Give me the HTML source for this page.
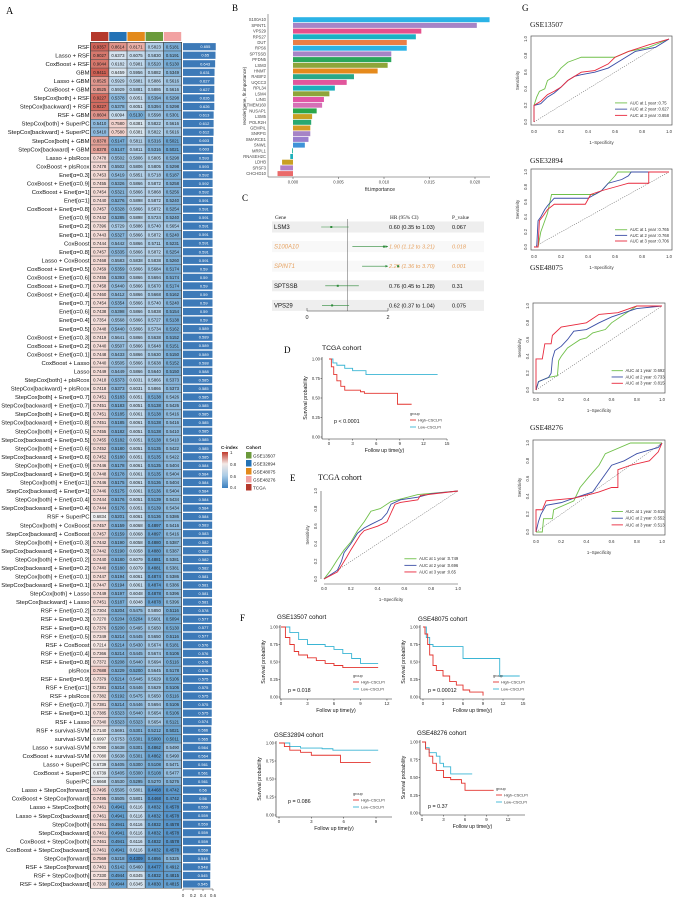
<!DOCTYPE html>
<html><head><meta charset="utf-8"><style>
html,body{margin:0;padding:0;background:#fff;}
svg{display:block;font-family:"Liberation Sans",sans-serif;}
.serif{font-family:"Liberation Serif",serif;}
</style></head><body>
<svg id="fig" width="674" height="898" viewBox="0 0 674 898" xmlns="http://www.w3.org/2000/svg">
<text x="6" y="14" class="serif" font-size="10">A</text>
<text x="232" y="11" class="serif" font-size="9">B</text>
<text x="242" y="201" class="serif" font-size="9">C</text>
<text x="284" y="353" class="serif" font-size="9">D</text>
<text x="290" y="481" class="serif" font-size="9">E</text>
<text x="240" y="621" class="serif" font-size="9">F</text>
<text x="522" y="11" class="serif" font-size="9">G</text>
</svg>
<script>
// ---------- Panel A data ----------
const modelNames = ["RSF","Lasso + RSF","CoxBoost + RSF","GBM","Lasso + GBM","CoxBoost + GBM","StepCox[both] + RSF","StepCox[backward] + RSF","RSF + GBM","StepCox[both] + SuperPC","StepCox[backward] + SuperPC","StepCox[both] + GBM","StepCox[backward] + GBM","Lasso + plsRcox","CoxBoost + plsRcox","Enet[α=0.3]","CoxBoost + Enet[α=0.9]","CoxBoost + Enet[α=1]","Enet[α=1]","CoxBoost + Enet[α=0.8]","Enet[α=0.9]","Enet[α=0.2]","Enet[α=0.1]","CoxBoost","Enet[α=0.8]","Lasso + CoxBoost","CoxBoost + Enet[α=0.5]","CoxBoost + Enet[α=0.6]","CoxBoost + Enet[α=0.7]","CoxBoost + Enet[α=0.4]","Enet[α=0.7]","Enet[α=0.6]","Enet[α=0.4]","Enet[α=0.5]","CoxBoost + Enet[α=0.3]","CoxBoost + Enet[α=0.2]","CoxBoost + Enet[α=0.1]","CoxBoost + Lasso","Lasso","StepCox[both] + plsRcox","StepCox[backward] + plsRcox","StepCox[both] + Enet[α=0.7]","StepCox[backward] + Enet[α=0.7]","StepCox[both] + Enet[α=0.8]","StepCox[backward] + Enet[α=0.8]","StepCox[both] + Enet[α=0.5]","StepCox[backward] + Enet[α=0.5]","StepCox[both] + Enet[α=0.6]","StepCox[backward] + Enet[α=0.6]","StepCox[both] + Enet[α=0.9]","StepCox[backward] + Enet[α=0.9]","StepCox[both] + Enet[α=1]","StepCox[backward] + Enet[α=1]","StepCox[both] + Enet[α=0.4]","StepCox[backward] + Enet[α=0.4]","RSF + SuperPC","StepCox[both] + CoxBoost","StepCox[backward] + CoxBoost","StepCox[both] + Enet[α=0.3]","StepCox[backward] + Enet[α=0.3]","StepCox[both] + Enet[α=0.2]","StepCox[backward] + Enet[α=0.2]","StepCox[both] + Enet[α=0.1]","StepCox[backward] + Enet[α=0.1]","StepCox[both] + Lasso","StepCox[backward] + Lasso","RSF + Enet[α=0.2]","RSF + Enet[α=0.3]","RSF + Enet[α=0.6]","RSF + Enet[α=0.5]","RSF + CoxBoost","RSF + Enet[α=0.4]","RSF + Enet[α=0.8]","plsRcox","RSF + Enet[α=0.9]","RSF + Enet[α=1]","RSF + plsRcox","RSF + Enet[α=0.7]","RSF + Enet[α=0.1]","RSF + Lasso","RSF + survival-SVM","survival-SVM","Lasso + survival-SVM","CoxBoost + survival-SVM","Lasso + SuperPC","CoxBoost + SuperPC","SuperPC","Lasso + StepCox[forward]","CoxBoost + StepCox[forward]","Lasso + StepCox[both]","Lasso + StepCox[backward]","StepCox[both]","StepCox[backward]","CoxBoost + StepCox[both]","CoxBoost + StepCox[backward]","StepCox[forward]","RSF + StepCox[forward]","RSF + StepCox[both]","RSF + StepCox[backward]"];
const cTCGA = [0.9357,0.9027,0.9044,0.9411,0.8525,0.8525,0.9227,0.9227,0.8604,0.5410,0.5410,0.8378,0.8378,0.7478,0.7478,0.7453,0.7455,0.7454,0.7440,0.7457,0.7442,0.7396,0.7443,0.7444,0.7457,0.7468,0.7459,0.7455,0.7458,0.7460,0.7454,0.7438,0.7354,0.7448,0.7419,0.7440,0.7448,0.7440,0.7449,0.7418,0.7418,0.7451,0.7451,0.7451,0.7451,0.7455,0.7455,0.7452,0.7452,0.7446,0.7448,0.7446,0.7446,0.7444,0.7444,0.6834,0.7457,0.7457,0.7442,0.7442,0.7440,0.7440,0.7447,0.7447,0.7449,0.7451,0.7304,0.7270,0.7376,0.7349,0.7214,0.7366,0.7372,0.7688,0.7379,0.7381,0.7382,0.7381,0.7385,0.7340,0.7140,0.6997,0.7080,0.7080,0.6739,0.6739,0.6668,0.7495,0.7495,0.7461,0.7461,0.7461,0.7461,0.7461,0.7461,0.7569,0.7401,0.7330,0.7330];
const cGSE32894 = [0.8614,0.6373,0.6182,0.6459,0.5929,0.5929,0.5378,0.5378,0.6094,0.7580,0.7580,0.5147,0.5147,0.5502,0.5502,0.5419,0.5326,0.5321,0.5276,0.5328,0.5285,0.5729,0.5327,0.5442,0.5335,0.5583,0.5359,0.5393,0.5440,0.5412,0.5354,0.5398,0.5568,0.5440,0.5641,0.5507,0.5433,0.5505,0.5449,0.5373,0.5373,0.5183,0.5183,0.5185,0.5185,0.5182,0.5182,0.5180,0.5180,0.5178,0.5178,0.5175,0.5175,0.5176,0.5176,0.5201,0.5159,0.5159,0.5190,0.5190,0.5180,0.5180,0.5194,0.5194,0.5197,0.5187,0.5204,0.5204,0.5200,0.5214,0.5214,0.5214,0.5208,0.5229,0.5214,0.5214,0.5192,0.5214,0.5323,0.5323,0.5691,0.5753,0.5638,0.5638,0.5405,0.5405,0.5530,0.5505,0.5505,0.4941,0.4941,0.4941,0.4941,0.4941,0.4941,0.5218,0.5142,0.4944,0.4944];
const cGSE48075 = [0.8171,0.6075,0.5981,0.5956,0.5881,0.5881,0.6051,0.6051,0.5130,0.6381,0.6381,0.5811,0.5811,0.5806,0.5806,0.5851,0.5866,0.5866,0.5898,0.5866,0.5898,0.5886,0.5866,0.5866,0.5866,0.5838,0.5866,0.5866,0.5866,0.5866,0.5866,0.5866,0.5866,0.5866,0.5866,0.5866,0.5866,0.5866,0.5866,0.6031,0.6031,0.6051,0.6051,0.6061,0.6061,0.6051,0.6051,0.6051,0.6051,0.6061,0.6061,0.6061,0.6061,0.6051,0.6051,0.6061,0.6068,0.6068,0.6058,0.6058,0.6079,0.6079,0.6061,0.6061,0.6048,0.6048,0.5475,0.5204,0.5495,0.5445,0.5430,0.5445,0.5440,0.5200,0.5445,0.5446,0.5475,0.5446,0.5440,0.5323,0.5301,0.5301,0.5301,0.5301,0.5300,0.5300,0.5295,0.5801,0.5801,0.6116,0.6116,0.6116,0.6116,0.6116,0.6116,0.4309,0.5460,0.6345,0.6345];
const cGSE13507 = [0.5823,0.5830,0.5520,0.5882,0.5886,0.5886,0.5394,0.5394,0.5598,0.5822,0.5822,0.5316,0.5316,0.5805,0.5805,0.5718,0.5872,0.5868,0.5872,0.5872,0.5724,0.5740,0.5872,0.5711,0.5872,0.5838,0.5684,0.5694,0.5670,0.5668,0.5740,0.5838,0.5727,0.5734,0.5638,0.5648,0.5630,0.5638,0.5640,0.5866,0.5866,0.5138,0.5138,0.5138,0.5138,0.5138,0.5138,0.5135,0.5135,0.5135,0.5135,0.5136,0.5136,0.5139,0.5139,0.5136,0.4897,0.4897,0.4880,0.4880,0.4881,0.4881,0.4874,0.4874,0.4878,0.4878,0.5850,0.5601,0.5650,0.5650,0.5674,0.5674,0.5694,0.5645,0.5629,0.5629,0.5650,0.5694,0.5654,0.5654,0.5212,0.5000,0.4862,0.4862,0.5108,0.5108,0.5270,0.4468,0.4468,0.4832,0.4832,0.4832,0.4832,0.4832,0.4832,0.4856,0.4477,0.4832,0.4830];
const cGSE48276 = [0.5181,0.5191,0.5130,0.5349,0.5616,0.5616,0.5298,0.5298,0.5301,0.5616,0.5616,0.5021,0.5021,0.5298,0.5298,0.5187,0.5258,0.5256,0.5240,0.5254,0.5240,0.5654,0.5240,0.5231,0.5254,0.5260,0.5174,0.5174,0.5174,0.5162,0.5240,0.5154,0.5138,0.5162,0.5152,0.5151,0.5150,0.5152,0.5150,0.5373,0.5373,0.5426,0.5426,0.5416,0.5416,0.5410,0.5410,0.5422,0.5422,0.5404,0.5404,0.5404,0.5404,0.5434,0.5434,0.5386,0.5416,0.5416,0.5387,0.5387,0.5381,0.5381,0.5386,0.5386,0.5396,0.5396,0.5116,0.5094,0.5130,0.5116,0.5181,0.5106,0.5116,0.5178,0.5106,0.5106,0.5116,0.5106,0.5106,0.5121,0.5021,0.5011,0.5490,0.5490,0.5471,0.5477,0.5276,0.4742,0.4742,0.4578,0.4578,0.4578,0.4578,0.4578,0.4578,0.5325,0.4912,0.4815,0.4815];
const meanCindex = [0.655,0.65,0.643,0.631,0.627,0.627,0.626,0.626,0.613,0.612,0.612,0.603,0.603,0.593,0.593,0.592,0.592,0.592,0.591,0.591,0.591,0.591,0.591,0.591,0.591,0.591,0.590,0.590,0.590,0.590,0.590,0.590,0.590,0.589,0.589,0.589,0.589,0.588,0.588,0.585,0.585,0.585,0.585,0.585,0.585,0.585,0.585,0.585,0.585,0.584,0.584,0.584,0.584,0.584,0.584,0.584,0.583,0.583,0.582,0.582,0.582,0.582,0.581,0.581,0.581,0.581,0.578,0.577,0.577,0.577,0.576,0.576,0.576,0.576,0.575,0.575,0.575,0.575,0.575,0.574,0.566,0.565,0.564,0.564,0.561,0.561,0.561,0.56,0.56,0.559,0.559,0.559,0.559,0.559,0.559,0.548,0.548,0.545,0.545];
const barTicks = [0,0.2,0.4,0.6];

// ---------- Panel B data ----------
const geneB = ["S100A10","SPINT1","VPS29","RPS27","DUT","RPS6","SPTSSB","PFDN5","LSM3","HNMT","RABIF2","UQCC3","RPL34","LSM4","LING","TMEM160","NUSAP1","LSM5","POLR2H","GEMPIL","SNRPG","SMARCE1","SNW1","MRPL1","RNASEH2C","LDHB","SRSF3","CHCHD10"];
const importanceB = [0.0216,0.0202,0.0141,0.0135,0.0125,0.0125,0.0108,0.0108,0.0104,0.0093,0.0067,0.0059,0.0046,0.0040,0.0034,0.0032,0.0026,0.0021,0.0020,0.0019,0.0019,0.0017,0.0013,-0.0001,-0.0003,-0.0012,-0.0014,-0.0017];
const colorB = ["#2bb3e6","#a684c6","#e5508c","#19b2c4","#e97f46","#2bb3e6","#a684c6","#2aa65b","#8ea53a","#e58a1c","#2aa888","#e1569c","#1cb0bb","#8ea53a","#e156a6","#d66fb6","#2aa64a","#c9a023","#2aa870","#d69b24","#a684c6","#9a7fce","#3e93d8","#27b7a0","#1cb0bb","#c9a023","#b17fc6","#ea6a6a"];
const tickB = [0,0.005,0.01,0.015,0.02];

// ---------- Panel C data ----------
const geneC = ["LSM3","S100A10","SPINT1","SPTSSB","VPS29"];
const hrC = [0.60,1.90,2.25,0.76,0.62];
const loC = [0.35,1.12,1.36,0.45,0.37];
const hiC = [1.03,3.21,3.70,1.28,1.04];
const pC = ["0.067","0.018","0.001","0.31","0.075"];

// ---------- KM data [time, survival] ----------
const kmTcgaHigh = [[0,1],[0.3,0.9],[0.6,0.8],[1,0.72],[1.5,0.65],[2,0.6],[4,0.58],[4.5,0.56],[8.7,0.56],[8.7,0.42],[10.5,0.42]];
const kmTcgaLow = [[0,1],[0.5,0.95],[1,0.92],[2,0.88],[3,0.85],[4.7,0.8],[13.8,0.8]];
const km13507High = [[0,1],[0.5,0.85],[1,0.75],[1.5,0.65],[2,0.6],[3,0.56],[4,0.52],[5,0.48],[6,0.45],[7,0.42],[11,0.42]];
const km13507Low = [[0,1],[1,0.92],[2,0.82],[3,0.75],[5,0.72],[6,0.68],[7,0.62],[8,0.55],[9,0.48],[11,0.48]];
const km48075High = [[0,1],[0.3,0.9],[0.7,0.75],[1,0.6],[1.5,0.45],[2,0.38],[3,0.3],[4,0.22],[5,0.17],[6,0.1],[7,0.07],[9,0.02]];
const km48075Low = [[0,1],[0.5,0.85],[1,0.75],[1.5,0.72],[5.5,0.72],[6,0.55],[11,0.55],[11.5,0.3],[14.5,0.3]];
const km32894High = [[0,1],[0.5,0.95],[1,0.9],[2,0.87],[3,0.83],[5.7,0.83],[5.7,0.73],[8.5,0.73]];
const km32894Low = [[0,1],[1,0.95],[2,0.93],[4,0.92],[5,0.9],[9.2,0.9]];
const km48276High = [[0,1],[0.5,0.9],[1,0.8],[1.5,0.7],[2,0.6],[3,0.5],[4,0.47],[5,0.47],[5.5,0.42],[6,0.32],[10,0.32]];
const km48276Low = [[0,1],[0.5,0.92],[1,0.85],[2,0.8],[2.5,0.7],[3,0.65],[4,0.55],[7,0.55]];

// ---------- ROC data [fpr, tpr] ----------
const rocTcga1 = [[0,0],[0.05,0.1],[0.1,0.22],[0.15,0.33],[0.2,0.42],[0.25,0.55],[0.3,0.65],[0.35,0.77],[0.42,0.8],[0.5,0.88],[0.55,0.9],[0.7,0.96],[1,1]];
const rocTcga2 = [[0,0],[0.1,0.1],[0.13,0.2],[0.15,0.3],[0.2,0.4],[0.25,0.52],[0.3,0.58],[0.35,0.62],[0.43,0.68],[0.47,0.75],[0.5,0.85],[0.57,0.9],[0.7,0.93],[0.8,0.97],[1,1]];
const rocTcga3 = [[0,0],[0.1,0.08],[0.13,0.15],[0.17,0.25],[0.2,0.33],[0.27,0.5],[0.3,0.55],[0.4,0.6],[0.47,0.65],[0.5,0.75],[0.53,0.85],[0.57,0.87],[0.7,0.9],[0.72,0.95],[1,1]];
const roc13507a = [[0,0],[0,0.2],[0.02,0.3],[0.04,0.37],[0.08,0.4],[0.1,0.5],[0.15,0.55],[0.2,0.65],[0.25,0.72],[0.3,0.75],[0.35,0.78],[0.6,0.78],[0.7,0.85],[0.85,0.9],[1,1]];
const roc13507b = [[0,0],[0,0.2],[0.05,0.22],[0.1,0.3],[0.15,0.35],[0.2,0.42],[0.25,0.5],[0.3,0.55],[0.35,0.57],[0.45,0.6],[0.55,0.65],[0.65,0.75],[0.75,0.85],[0.9,0.9],[1,1]];
const roc13507c = [[0,0],[0,0.2],[0.05,0.25],[0.1,0.33],[0.15,0.37],[0.2,0.42],[0.25,0.5],[0.35,0.6],[0.45,0.62],[0.55,0.7],[0.6,0.78],[0.7,0.85],[0.85,0.93],[1,1]];
const roc32894a = [[0,0],[0.03,0],[0.05,0.2],[0.08,0.35],[0.1,0.45],[0.13,0.7],[0.2,0.7],[0.45,0.7],[0.5,0.75],[0.55,0.85],[0.6,0.95],[0.62,1],[1,1]];
const roc32894b = [[0,0],[0.02,0],[0.03,0.35],[0.05,0.4],[0.08,0.5],[0.1,0.55],[0.15,0.65],[0.4,0.65],[0.45,0.7],[0.5,0.75],[0.55,0.85],[0.65,0.9],[0.7,0.95],[0.72,1],[1,1]];
const roc32894c = [[0,0],[0.03,0],[0.04,0.35],[0.07,0.42],[0.1,0.5],[0.15,0.57],[0.38,0.57],[0.42,0.7],[0.5,0.75],[0.6,0.8],[0.7,0.85],[0.85,0.85],[0.85,1],[1,1]];
const roc48075a = [[0,0],[0.02,0.1],[0.1,0.15],[0.17,0.17],[0.18,0.35],[0.2,0.4],[0.25,0.5],[0.3,0.55],[0.35,0.6],[0.4,0.62],[0.45,0.68],[0.55,0.72],[0.6,0.8],[0.7,0.9],[0.8,1],[1,1]];
const roc48075b = [[0,0],[0.02,0.1],[0.1,0.15],[0.12,0.2],[0.13,0.37],[0.15,0.47],[0.2,0.52],[0.25,0.6],[0.3,0.7],[0.4,0.72],[0.5,0.8],[0.6,0.87],[0.7,0.92],[0.8,0.97],[1,1]];
const roc48075c = [[0,0],[0,0.37],[0.05,0.37],[0.07,0.55],[0.12,0.55],[0.13,0.65],[0.2,0.75],[0.4,0.8],[0.5,0.9],[0.65,0.92],[0.8,1],[1,1]];
const roc48276a = [[0,0],[0.05,0],[0.06,0.15],[0.13,0.15],[0.14,0.25],[0.3,0.35],[0.35,0.5],[0.42,0.62],[0.5,0.75],[0.55,0.88],[0.75,1],[1,1]];
const roc48276b = [[0,0],[0.02,0.12],[0.04,0.2],[0.08,0.3],[0.2,0.33],[0.3,0.38],[0.45,0.45],[0.5,0.55],[0.55,0.65],[0.6,0.75],[0.7,0.8],[0.8,0.88],[0.97,0.95],[1,1]];
const roc48276c = [[0,0],[0,0.25],[0.05,0.25],[0.08,0.35],[0.3,0.38],[0.45,0.43],[0.5,0.45],[0.6,0.5],[0.65,0.5],[0.65,0.7],[0.75,0.75],[0.9,0.8],[0.97,0.9],[1,1]];
const aucTcga = ["0.749","0.696","0.65"];
const auc13507 = ["0.75","0.627","0.658"];
const auc32894 = ["0.765","0.768","0.706"];
const auc48075 = ["0.692","0.733","0.815"];
const auc48276 = ["0.615","0.552","0.513"];

const NS = "http://www.w3.org/2000/svg";
const svg = document.getElementById('fig');
function el(tag, attrs, parent){ const e=document.createElementNS(NS,tag); for(const k in attrs) e.setAttribute(k,attrs[k]); (parent||svg).appendChild(e); return e; }
function tx(x,y,s,size,attrs,parent){ const e=el('text',Object.assign({x:x,y:y,'font-size':size},attrs||{}),parent); e.textContent=s; return e; }
function grp(parent){ return el('g',{},parent); }

// ---------- Panel A ----------
(function(){
  const g = grp();
  
  
  const stops = [[0.4,[59,127,191]],[0.5,[106,164,210]],[0.6,[192,216,236]],[0.7,[247,244,242]],[0.8,[238,186,179]],[1.0,[192,57,43]]];
  function col(v){ v=Math.max(0.4,Math.min(1,v)); for(let i=0;i<stops.length-1;i++){ const a=stops[i],b=stops[i+1]; if(v<=b[0]){ const t=(v-a[0])/(b[0]-a[0]); return 'rgb('+a[1].map((c,j)=>Math.round(c+(b[1][j]-c)*t)).join(',')+')'; } } return 'rgb(192,57,43)'; }
  const cols = [cTCGA,cGSE32894,cGSE48075,cGSE13507,cGSE48276];
  const headCols = ["#b5392c","#2472b5","#e38a1b","#6b9a3b","#f2a2a2"];
  const rowY = i => 46.7 + i*8.544;
  const colX = c => 91 + c*18.2;
  const barX = v => 183 + v*50;
  headCols.forEach((hc,c)=>{
    const r = el('rect',{x:colX(c),y:32,width:17.4,height:9,fill:hc},g);
    
    
  });
  el('rect',{x:90,y:42,width:92,height:rowY(modelNames.length-1)+4.5-42,fill:'#4a4a4a'},g);
  modelNames.forEach((m,i)=>{
    const y = rowY(i);
    const lab = tx(89.5,y+2.1,m,5.9,{'text-anchor':'end',fill:'#111'},g);
    
    
    cols.forEach((arr,c)=>{
      const r = el('rect',{x:colX(c),y:y-4,width:17.4,height:8,fill:col(arr[i])},g);
      
      
      const t = tx(colX(c)+8.7,y+1.6,arr[i].toFixed(4),4.3,{'text-anchor':'middle',fill:'#222'},g);
      
      
    });
    const b = el('rect',{x:barX(0),y:y-3.6,width:barX(meanCindex[i])-barX(0),height:7.2,fill:'#3d7ab8'},g);
    
    
    const bt = tx((barX(0)+barX(meanCindex[i]))/2+6,y+1.5,String(meanCindex[i]),4,{'text-anchor':'middle',fill:'#fff'},g);
    
    
  });
  const ay = rowY(modelNames.length-1)+5;
  const axl = el('line',{x1:barX(0),x2:barX(0.6),y1:ay,y2:ay,stroke:'#333','stroke-width':0.5},g);
  
  
  barTicks.forEach(v=>{
    el('line',{x1:barX(v),x2:barX(v),y1:ay,y2:ay+2,stroke:'#333','stroke-width':0.5},g);
    const t = tx(barX(v),ay+8,String(v),4.5,{'text-anchor':'middle',fill:'#333'},g);
    
    
  });
  // legend
  const lg = grp(g);
  
  
  const defs = el('defs',{},lg);
  const lgr = el('linearGradient',{id:'cgrad',x1:0,y1:0,x2:0,y2:1},defs);
  [['0','#c0392b'],['0.33','#f3e9e6'],['0.66','#a9cbe6'],['1','#3b7fbf']].forEach(s=>el('stop',{offset:s[0],'stop-color':s[1]},lgr));
  tx(221,449,'C-index',4.6,{fill:'#222','font-weight':'bold'},lg);
  tx(246,449,'Cohort',4.6,{fill:'#222','font-weight':'bold'},lg);
  el('rect',{x:222,y:452,width:6,height:36,fill:'url(#cgrad)'},lg);
  [['1',454],['0.8',466],['0.6',478],['0.4',489]].forEach(a=>tx(230,a[1],a[0],4.4,{fill:'#333'},lg));
  const cohorts = [['GSE13507','#6b9a3b'],['GSE32894','#2472b5'],['GSE48075','#e38a1b'],['GSE48276','#f2a2a2'],['TCGA','#b5392c']];
  cohorts.forEach((c,i)=>{
    const r = el('rect',{x:246,y:452+i*8,width:5.5,height:6.5,fill:c[1]},lg);
    
    
    const t = tx(253,457.5+i*8,c[0],4.6,{fill:'#222'},lg);
    
    
  });
})();

// ---------- Panel B ----------
(function(){
  const g = grp();
  
  
  const bx = v => 293 + v*9100;
  const by = i => 19.7 + i*5.7;
  el('line',{x1:268,x2:268,y1:14,y2:177,stroke:'#444','stroke-width':0.5},g);
  el('line',{x1:268,x2:490,y1:177,y2:177,stroke:'#444','stroke-width':0.5},g);
  geneB.forEach((gn,i)=>{
    const v = importanceB[i];
    const r = el('rect',{x:Math.min(bx(0),bx(v)),y:by(i)-2.5,width:Math.max(0.8,Math.abs(bx(v)-bx(0))),height:5,fill:colorB[i]},g);
    
    
    const t = tx(266,by(i)+1.5,gn,4.2,{'text-anchor':'end',fill:'#444'},g);
    
    
  });
  tickB.forEach(v=>{
    el('line',{x1:bx(v),x2:bx(v),y1:177,y2:179,stroke:'#444','stroke-width':0.5},g);
    const t = tx(bx(v),183.5,v.toFixed(3),4.2,{'text-anchor':'middle',fill:'#444'},g);
    
    
  });
  const xt = tx(380,191,'fit.importance',5,{'text-anchor':'middle',fill:'#222'},g);
  
  
  const yt = tx(0,0,'reorder(gene, fit.importance)',4.6,{'text-anchor':'middle',fill:'#222',transform:'translate(246,96) rotate(-90)'},g);
  
  
})();

// ---------- Panel C ----------
(function(){
  const g = grp();
  
  
  const fx = v => 307 + v*40.5;
  const fy = i => 227 + i*19.6;
  tx(275,219,'Gene',5.3,{fill:'#222',class:'serif'},g);
  tx(390,219,'HR (95% CI)',5.3,{fill:'#222',class:'serif'},g);
  tx(452,219,'P_value',5.3,{fill:'#222',class:'serif'},g);
  geneC.forEach((gn,i)=>{
    const y = fy(i);
    const sig = i===1||i===2;
    const bg = el('rect',{x:272,y:y-5.5,width:212,height:11,fill:sig?'#f8f8f8':'#eeeeee'},g);
    
    
    const c = sig?'#e6a15f':'#111';
    const st = sig?'italic':'normal';
    const t1 = tx(274,y+2,gn,6,{fill:c,'font-style':st},g);
    
    
    const t2 = tx(389,y+2,hrC[i].toFixed(2)+' ('+loC[i].toFixed(2)+' to '+hiC[i].toFixed(2)+')',5.6,{fill:c,'font-style':st},g);
    
    
    const t3 = tx(452,y+2,pC[i],5.6,{fill:c,'font-style':st},g);
    
    
  });
  el('line',{x1:fx(1),x2:fx(1),y1:219,y2:311,stroke:'#777','stroke-width':0.6},g);
  geneC.forEach((gn,i)=>{
    const y = fy(i);
    const hiClip = Math.min(hiC[i],2);
    const ci = el('line',{x1:fx(loC[i]),x2:fx(hiClip),y1:y,y2:y,stroke:'#2e8b3a','stroke-width':0.6},g);
    
    
    if(hiC[i]>2){ el('path',{d:'M'+fx(2)+','+y+' l-2.5,-1.3 v2.6 z',fill:'#2e8b3a'},g); }
    const pt = el('rect',{x:fx(hrC[i])-1,y:y-1,width:2,height:2,fill:'#2e8b3a'},g);
    
    
  });
  el('line',{x1:fx(0),x2:fx(2),y1:311,y2:311,stroke:'#333','stroke-width':0.5},g);
  [0,2].forEach(v=>{
    el('line',{x1:fx(v),x2:fx(v),y1:311,y2:308,stroke:'#333','stroke-width':0.5},g);
    tx(fx(v),319,String(v),5.5,{'text-anchor':'middle',fill:'#222'},g);
  });
})();

// ---------- KM ----------
function plotKM(o){
  const g = grp();
  
  
  const X = t => o.x0 + t*o.xs;
  const Y = s => o.yBot - s*(o.yBot-o.yTop);
  const tt = tx(o.tx,o.ty,o.title,o.tfs||6.2,{fill:'#111'},g);
  
  
  el('line',{x1:o.ax,x2:o.ax,y1:o.yTop-2,y2:o.yBot+2,stroke:'#222','stroke-width':0.6},g);
  el('line',{x1:o.ax,x2:o.xEnd,y1:o.yBot+2,y2:o.yBot+2,stroke:'#222','stroke-width':0.6},g);
  [0,0.25,0.5,0.75,1].forEach(s=>{
    el('line',{x1:o.ax-1.5,x2:o.ax,y1:Y(s),y2:Y(s),stroke:'#222','stroke-width':0.5},g);
    tx(o.ax-2,Y(s)+1.5,s.toFixed(2),4.2,{'text-anchor':'end',fill:'#333'},g);
  });
  o.xt.forEach(t=>{
    el('line',{x1:X(t),x2:X(t),y1:o.yBot+2,y2:o.yBot+3.5,stroke:'#222','stroke-width':0.5},g);
    tx(X(t),o.yBot+8,String(t),4.4,{'text-anchor':'middle',fill:'#333'},g);
  });
  tx((o.ax+o.xEnd)/2,o.yBot+15,'Follow up time(y)',5.2,{'text-anchor':'middle',fill:'#111'},g);
  tx(0,0,'Survival probability',5.2,{'text-anchor':'middle',fill:'#111',transform:'translate('+(o.ax-15)+','+((o.yTop+o.yBot)/2)+') rotate(-90)'},g);
  [[o.lo,'#3ab5d4','km-low-curve'],[o.hi,'#e3342f','km-high-curve']].forEach(c=>{
    let d='';
    c[0].forEach((p,i)=>{ if(i===0) d='M'+X(p[0])+','+Y(p[1]); else d+=' H'+X(p[0])+' V'+Y(p[1]); });
    const pa = el('path',{d:d,fill:'none',stroke:c[1],'stroke-width':0.9},g);
    
    
  });
  const pt = tx(o.px,o.py,o.p,5.4,{fill:'#111'},g);
  
  
  tx(o.lx,o.ly,'group',3.8,{fill:'#333'},g);
  el('line',{x1:o.lx,x2:o.lx+6,y1:o.ly+5,y2:o.ly+5,stroke:'#e3342f','stroke-width':0.9},g);
  tx(o.lx+8,o.ly+6.3,'High−CSCLPI',3.8,{fill:'#333'},g);
  el('line',{x1:o.lx,x2:o.lx+6,y1:o.ly+12,y2:o.ly+12,stroke:'#3ab5d4','stroke-width':0.9},g);
  tx(o.lx+8,o.ly+13.3,'Low−CSCLPI',3.8,{fill:'#333'},g);
}
plotKM({name:'panel-d-km-tcga',ax:322,x0:329,xs:7.87,xEnd:447,yTop:359,yBot:437,xt:[0,3,6,9,12,15],title:'TCGA cohort',tx:322,ty:350,tfs:6.8,hi:kmTcgaHigh,lo:kmTcgaLow,p:'p < 0.0001',px:334,py:423,lx:410,ly:415});
plotKM({name:'panel-f-km-gse13507',ax:280,x0:281,xs:8.83,xEnd:392,yTop:627,yBot:697,xt:[0,3,6,9,12],title:'GSE13507 cohort',tx:277,ty:619,hi:km13507High,lo:km13507Low,p:'p = 0.018',px:288,py:692,lx:353,ly:677});
plotKM({name:'panel-f-km-gse48075',ax:420,x0:423,xs:6.67,xEnd:525,yTop:627,yBot:697,xt:[0,3,6,9,12,15],title:'GSE48075 cohort',tx:418,ty:621,hi:km48075High,lo:km48075Low,p:'p = 0.00012',px:428,py:692,lx:493,ly:677});
plotKM({name:'panel-f-km-gse32894',ax:276,x0:279,xs:10.78,xEnd:392,yTop:743,yBot:815,xt:[0,3,6,9],title:'GSE32894 cohort',tx:274,ty:737,hi:km32894High,lo:km32894Low,p:'p = 0.086',px:288,py:803,lx:353,ly:795});
plotKM({name:'panel-f-km-gse48276',ax:420,x0:422,xs:7.17,xEnd:525,yTop:742,yBot:813,xt:[0,3,6,9,12],title:'GSE48276 cohort',tx:417,ty:735,hi:km48276High,lo:km48276Low,p:'p = 0.37',px:428,py:808,lx:496,ly:790});

// ---------- ROC ----------
function plotROC(o){
  const g = grp();
  
  
  const X = v => o.x0 + v*(o.x1-o.x0);
  const Y = v => o.y0 - v*(o.y0-o.y1);
  const tt = tx(o.tx,o.ty,o.title,o.tfs||7.5,{fill:'#111',class:'serif'},g);
  
  
  if(o.box){ el('rect',{x:X(0)-3,y:Y(1)-3,width:X(1)-X(0)+6,height:Y(0)-Y(1)+6,fill:'none',stroke:'#555','stroke-width':0.7},g); }
  else {
    el('line',{x1:X(0)-3,x2:X(0)-3,y1:Y(0),y2:Y(1),stroke:'#444','stroke-width':0.6},g);
    el('line',{x1:X(0),x2:X(1),y1:Y(0)+5,y2:Y(0)+5,stroke:'#444','stroke-width':0.6},g);
  }
  const tk = [0,0.2,0.4,0.6,0.8,1];
  tk.forEach(v=>{
    tx(X(v),Y(0)+11,v.toFixed(1),4.2,{'text-anchor':'middle',fill:'#333'},g);
    tx(0,0,v.toFixed(1),4.2,{'text-anchor':'middle',fill:'#333',transform:'translate('+(X(0)-7)+','+Y(v)+') rotate(-90)'},g);
  });
  tx((X(0)+X(1))/2,Y(0)+22,'1−Specificity',4.3,{'text-anchor':'middle',fill:'#333'},g);
  tx(0,0,'Sensitivity',4.3,{'text-anchor':'middle',fill:'#333',transform:'translate('+(X(0)-15)+','+((Y(0)+Y(1))/2)+') rotate(-90)'},g);
  el('line',{x1:X(0),y1:Y(0),x2:X(1),y2:Y(1),stroke:'#444','stroke-width':0.5,'stroke-dasharray':'1.2,1.2'},g);
  const colors = ['#70c04a','#3b4ea6','#e8283c'];
  const names = ['roc-1-year','roc-2-year','roc-3-year'];
  o.curves.forEach((c,k)=>{
    const d = c.map((p,i)=>(i?'L':'M')+X(p[0])+','+Y(p[1])).join(' ');
    const pa = el('path',{d:d,fill:'none',stroke:colors[k],'stroke-width':0.9},g);
    
    
    const ly = Y(0.23-k*0.075);
    el('line',{x1:X(0.6),x2:X(0.69),y1:ly,y2:ly,stroke:colors[k],'stroke-width':0.9},g);
    const lt = tx(X(0.71),ly+1.4,'AUC at '+(k+1)+' year :'+o.auc[k],4.2,{fill:'#333'},g);
    
    
  });
}
plotROC({name:'panel-e-roc-tcga',x0:324,x1:458,y0:579,y1:491,box:false,title:'TCGA cohort',tx:318,ty:480,tfs:8,curves:[rocTcga1,rocTcga2,rocTcga3],auc:aucTcga});
plotROC({name:'panel-g-roc-gse13507',x0:534,x1:669,y0:122,y1:39,box:true,title:'GSE13507',tx:530,ty:27,curves:[roc13507a,roc13507b,roc13507c],auc:auc13507});
plotROC({name:'panel-g-roc-gse32894',x0:534,x1:669,y0:247,y1:172,box:true,title:'GSE32894',tx:530,ty:163,curves:[roc32894a,roc32894b,roc32894c],auc:auc32894});
plotROC({name:'panel-g-roc-gse48075',x0:536,x1:662,y0:390,y1:306,box:true,title:'GSE48075',tx:530,ty:270,curves:[roc48075a,roc48075b,roc48075c],auc:auc48075});
plotROC({name:'panel-g-roc-gse48276',x0:536,x1:662,y0:532,y1:443,box:true,title:'GSE48276',tx:530,ty:430,curves:[roc48276a,roc48276b,roc48276c],auc:auc48276});
</script>
</body></html>
